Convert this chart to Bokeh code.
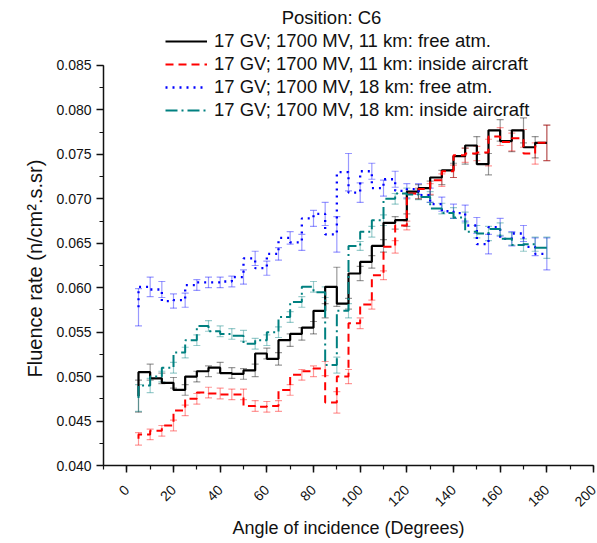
from bokeh.plotting import figure
from bokeh.models import (ColumnDataSource, Whisker, TeeHead, Legend, LegendItem,
                          Label, Title, FixedTicker, PrintfTickFormatter, Range1d)
from bokeh.embed import file_html
from bokeh.resources import INLINE
import math

# Angle of incidence bins (degrees)
angle = list(range(5, 181, 5))

# 17 GV; 1700 MV, 11 km: free atmosphere
free_11 = [0.0478, 0.0505, 0.0498, 0.0493, 0.0485, 0.0500, 0.0506, 0.0510, 0.0504,
           0.0503, 0.0507, 0.0526, 0.0520, 0.0541, 0.0548, 0.0555, 0.0574, 0.0601,
           0.0582, 0.0616, 0.0629, 0.0647, 0.0673, 0.0676, 0.0708, 0.0712, 0.0724,
           0.0732, 0.0748, 0.0760, 0.0739, 0.0777, 0.0765, 0.0777, 0.0758, 0.0763]
free_11_err = [0.0018, 0.0009, 0.0006, 0.0006, 0.0006, 0.0006, 0.0006, 0.0006, 0.0006,
               0.0006, 0.0007, 0.0006, 0.0007, 0.0007, 0.0007, 0.0007, 0.0008, 0.0022,
               0.0006, 0.0008, 0.0007, 0.0007, 0.0007, 0.0007, 0.0008, 0.0008, 0.0008,
               0.0008, 0.0009, 0.0010, 0.0012, 0.0012, 0.0012, 0.0014, 0.0012, 0.0020]

# 17 GV; 1700 MV, 11 km: inside aircraft
air_11 = [0.0430, 0.0435, 0.0439, 0.0445, 0.0462, 0.0475, 0.0482, 0.0481, 0.0480,
          0.0480, 0.0467, 0.0466, 0.0467, 0.0485, 0.0502, 0.0506, 0.0509, 0.0471,
          0.0500, 0.0560, 0.0581, 0.0614, 0.0646, 0.0670, 0.0706, 0.0711, 0.0721,
          0.0731, 0.0749, 0.0751, 0.0752, 0.0770, 0.0764, 0.0768, 0.0751, 0.0763]
air_11_err = [0.0007, 0.0006, 0.0006, 0.0006, 0.0006, 0.0006, 0.0006, 0.0006, 0.0006,
              0.0006, 0.0006, 0.0006, 0.0006, 0.0006, 0.0006, 0.0006, 0.0008, 0.0012,
              0.0008, 0.0006, 0.0005, 0.0005, 0.0007, 0.0005, 0.0006, 0.0006, 0.0007,
              0.0007, 0.0008, 0.0008, 0.0015, 0.0010, 0.0010, 0.0010, 0.0012, 0.0020]

# 17 GV; 1700 MV, 18 km: free atmosphere
free_18 = [0.0578, 0.0601, 0.0598, 0.0585, 0.0586, 0.0603, 0.0606, 0.0606, 0.0607,
           0.0612, 0.0633, 0.0622, 0.0638, 0.0656, 0.0651, 0.0678, 0.0683, 0.0660,
           0.0730, 0.0707, 0.0731, 0.0712, 0.0722, 0.0709, 0.0711, 0.0704, 0.0694,
           0.0686, 0.0684, 0.0670, 0.0649, 0.0668, 0.0655, 0.0661, 0.0646, 0.0638]
free_18_err = [0.0021, 0.0011, 0.0009, 0.0008, 0.0008, 0.0006, 0.0006, 0.0006, 0.0006,
               0.0008, 0.0008, 0.0008, 0.0007, 0.0007, 0.0009, 0.0009, 0.0013, 0.0020,
               0.0021, 0.0011, 0.0009, 0.0009, 0.0009, 0.0008, 0.0006, 0.0008, 0.0008,
               0.0008, 0.0009, 0.0009, 0.0011, 0.0010, 0.0008, 0.0009, 0.0010, 0.0018]

# 17 GV; 1700 MV, 18 km: inside aircraft
air_18 = [0.0476, 0.0490, 0.0500, 0.0510, 0.0527, 0.0541, 0.0557, 0.0551, 0.0548,
          0.0546, 0.0537, 0.0541, 0.0550, 0.0567, 0.0584, 0.0601, 0.0595, 0.0513,
          0.0574, 0.0647, 0.0663, 0.0676, 0.0700, 0.0706, 0.0705, 0.0702, 0.0689,
          0.0684, 0.0679, 0.0663, 0.0661, 0.0666, 0.0655, 0.0648, 0.0649, 0.0645]
air_18_err = [0.0015, 0.0008, 0.0006, 0.0006, 0.0006, 0.0006, 0.0006, 0.0006, 0.0006,
              0.0006, 0.0006, 0.0006, 0.0006, 0.0006, 0.0006, 0.0006, 0.0006, 0.0009,
              0.0008, 0.0005, 0.0006, 0.0006, 0.0006, 0.0006, 0.0006, 0.0006, 0.0006,
              0.0006, 0.0006, 0.0007, 0.0008, 0.0007, 0.0007, 0.0007, 0.0008, 0.0012]

labels = ["17 GV; 1700 MV, 11 km: free atm.",
          "17 GV; 1700 MV, 11 km: inside aircraft",
          "17 GV; 1700 MV, 18 km: free atm.",
          "17 GV; 1700 MV, 18 km: inside aircraft"]

x_ticks = list(range(0, 201, 20))
y_ticks = [0.040, 0.045, 0.050, 0.055, 0.060, 0.065, 0.070, 0.075, 0.080, 0.085]

FONT = "Liberation Sans"

# The frame reaches the top of the canvas so the legend block above the data
# sits inside it; the y axis itself stops at 0.085.
p = figure(width=597, height=543, x_range=Range1d(-10, 200), y_range=Range1d(0.040, 0.09231),
           output_backend="svg", toolbar_location=None,
           min_border_left=103, min_border_right=4, min_border_top=0, min_border_bottom=78)
p.grid.visible = False
p.outline_line_color = None
p.background_fill_color = "white"

series = [
    (free_11, free_11_err, "#000000", None, 2.2),
    (air_11, air_11_err, "#ff0000", "8 5", 2.0),
    (free_18, free_18_err, "#0000ff", "2 5", 2.3),
    (air_18, air_18_err, "#008080", "12 4 2 4", 2.0),
]

items = []
for (vals, errs, color, dash, lw), lab in zip(series, labels):
    src = ColumnDataSource(dict(
        x=angle, y=vals,
        upper=[v + e for v, e in zip(vals, errs)],
        lower=[v - e for v, e in zip(vals, errs)],
    ))
    whisk = Whisker(base="x", upper="upper", lower="lower", source=src,
                    line_color=color, line_alpha=0.4, line_width=1.2,
                    upper_head=TeeHead(size=7, line_color=color, line_alpha=0.4, line_width=1.2),
                    lower_head=TeeHead(size=7, line_color=color, line_alpha=0.4, line_width=1.2))
    p.add_layout(whisk)
    kw = dict(line_color=color, line_width=lw, mode="before")
    if dash:
        kw["line_dash"] = dash
    r = p.step("x", "y", source=src, **kw)
    items.append(LegendItem(label=lab, renderers=[r]))

legend = Legend(items=items, location=(62, 344), padding=0, margin=0, spacing=1,
                glyph_width=42, glyph_height=20, label_height=20, label_standoff=7,
                label_text_font=FONT, label_text_font_size="18.5px", label_text_color="#111111",
                background_fill_alpha=0, border_line_alpha=0)
p.add_layout(legend)

p.add_layout(Label(x=228, y=448, x_units="screen", y_units="screen", text="Position: C6",
                   text_align="center", text_baseline="middle", text_font=FONT,
                   text_font_size="18.5px", text_color="#111111"))

# Axes
p.xaxis.ticker = FixedTicker(ticks=x_ticks, minor_ticks=list(range(-10, 201, 10)))
p.yaxis.ticker = FixedTicker(ticks=y_ticks,
                             minor_ticks=[0.040 + 0.0025 * i for i in range(19)])
p.yaxis.bounds = (0.040, 0.085)
p.yaxis.formatter = PrintfTickFormatter(format="%.3f")
p.xaxis.major_label_orientation = math.pi / 4
p.xaxis.major_label_standoff = 15

for ax in (p.xaxis, p.yaxis):
    ax.axis_line_width = 1.5
    ax.axis_line_color = "#111111"
    ax.major_tick_line_width = 1.5
    ax.minor_tick_line_width = 1.2
    ax.major_tick_line_color = "#111111"
    ax.minor_tick_line_color = "#111111"
    ax.major_tick_out = 7
    ax.major_tick_in = 0
    ax.minor_tick_out = 4
    ax.minor_tick_in = 0
    ax.major_label_text_font = FONT
    ax.major_label_text_font_size = "14px"
    ax.major_label_text_color = "#111111"
    ax.axis_label_text_font = FONT
    ax.axis_label_text_font_size = "18px"
    ax.axis_label_text_font_style = "normal"
    ax.axis_label_text_color = "#111111"

p.xaxis.axis_label = "Angle of incidence (Degrees)"
p.xaxis.axis_label_standoff = 4

# y-axis caption, starting a little above the 0.040 end of the axis
p.add_layout(Title(text="Fluence rate (n/cm².s.sr)", align="left", offset=88,
                   text_font=FONT, text_font_size="20px", text_font_style="normal",
                   text_color="#111111", standoff=16), "left")

open("out.html", "w").write(file_html(p, INLINE))
